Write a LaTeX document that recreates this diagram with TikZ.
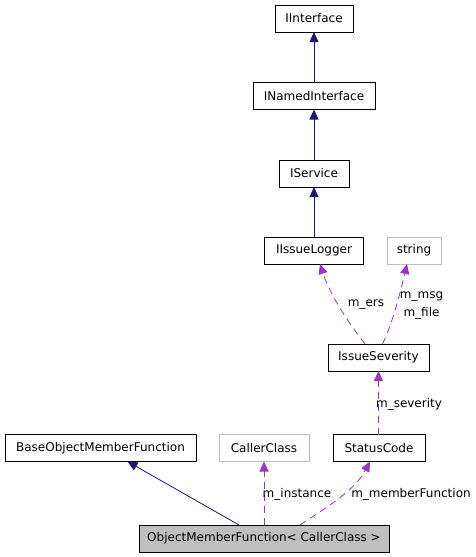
\documentclass[tikz,border=0pt]{standalone}
\usepackage{fontspec}
\setmainfont{DejaVu Sans}
\usetikzlibrary{arrows.meta}
\definecolor{navyc}{RGB}{25,25,112}
\definecolor{purp}{RGB}{154,50,205}
\definecolor{greyb}{RGB}{191,191,191}
\tikzset{
  cls/.style={draw=black, line width=0.8pt, minimum height=27pt, inner sep=0pt, outer sep=0pt, font=\fontsize{12}{14}\selectfont, text=black},
  ext/.style={cls, draw=greyb},
  inh/.style={draw=navyc, line width=0.8pt, -{Triangle[length=10pt,width=9pt]}},
  use/.style={draw=purp, line width=0.8pt, dash pattern=on 7pt off 5pt, -{Triangle[length=10pt,width=9pt]}},
  lbl/.style={font=\fontsize{12}{14}\selectfont, inner sep=0pt, text=black},
}
\begin{document}
\begin{tikzpicture}[x=1pt,y=-1pt]
\useasboundingbox (0,0) rectangle (476,557);
\node[cls, minimum width=78pt] (ii) at (314,18.5) {IInterface};
\node[cls, minimum width=122pt] (ini) at (314,96) {INamedInterface};
\node[cls, minimum width=70pt] (is) at (314,173.5) {IService};
\node[cls, minimum width=99pt] (il) at (314,250.5) {IIssueLogger};
\node[ext, minimum width=54pt] (str) at (414,250.5) {string};
\node[cls, minimum width=101pt] (sev) at (378.5,357.5) {IssueSeverity};
\node[cls, minimum width=191pt] (base) at (100.5,448) {BaseObjectMemberFunction};
\node[ext, minimum width=90pt] (cc) at (264,448) {CallerClass};
\node[cls, minimum width=92pt] (sc) at (379,448) {StatusCode};
\node[cls, fill=greyb, minimum width=250pt] (omf) at (264,538.5) {ObjectMemberFunction< CallerClass >};

\draw[inh] (ini.north) -- (ii.south);
\draw[inh] (is.north) -- (ini.south);
\draw[inh] (il.north) -- (is.south);

\draw[use] ([xshift=-13.5pt]sev.north) .. controls (350,325) and (330,295) .. ([xshift=6pt]il.south);
\node[lbl] (lers) at (366,305) {m\_ers};
\draw[use] ([xshift=4pt]sev.north) .. controls (392,325) and (401,290) .. ([xshift=-7pt]str.south);
\node[lbl] (lmsg) at (421.5,297) {m\_msg};
\node[lbl] (lfile) at (421.5,313) {m\_file};

\draw[use] ([xshift=-0.5pt]sc.north) -- (sev.south);
\node[lbl] (lsev) at (409,404) {m\_severity};

\draw[inh] ([xshift=-25pt]omf.north) -- ([xshift=27pt]base.south);
\draw[use] (omf.north) -- (cc.south);
\node[lbl] (linst) at (297,494) {m\_instance};
\draw[use] ([xshift=36pt]omf.north) .. controls (330,505) and (355,490) .. ([xshift=-9pt]sc.south);
\node[lbl] (lmf) at (411,494) {m\_memberFunction};
\end{tikzpicture}
\end{document}
